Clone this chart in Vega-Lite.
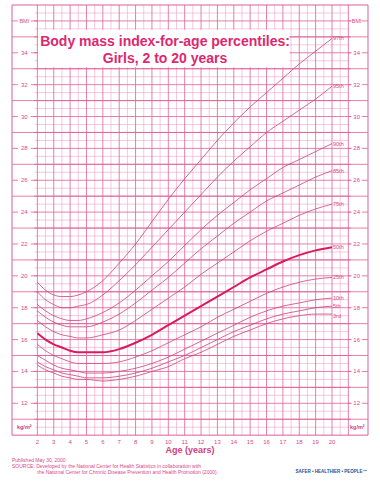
{
  "$schema": "https://vega.github.io/schema/vega-lite/v6.json",
  "width": 356,
  "height": 470,
  "autosize": {"type": "none"},
  "padding": {"left": 12, "top": 5, "right": 12, "bottom": 6},
  "background": "white",
  "config": {"view": {"stroke": null}, "font": "Liberation Sans"},
  "datasets": {
    "h05": [10.5, 11.5, 12.5, 13.5, 14.5, 15.5, 16.5, 17.5, 18.5, 19.5, 20.5, 21.5, 22.5, 23.5, 24.5, 25.5, 26.5, 27.5, 28.5, 29.5, 30.5, 31.5, 32.5, 33.5, 34.5, 35.5, 36.5],
    "h1": [11, 12, 13, 14, 15, 16, 17, 18, 19, 20, 21, 22, 23, 24, 25, 26, 27, 28, 29, 30, 31, 32, 33, 34, 35, 36],
    "hodd": [11, 13, 15, 17, 19, 21, 23, 25, 27, 29, 31, 33, 35],
    "heven": [12, 14, 16, 18, 20, 22, 24, 26, 28, 30, 32, 34, 36],
    "ylabels": [12, 14, 16, 18, 20, 22, 24, 26, 28, 30, 32, 34],
    "xlabels": [2, 3, 4, 5, 6, 7, 8, 9, 10, 11, 12, 13, 14, 15, 16, 17, 18, 19, 20],
    "v05": [2.5, 3.5, 4.5, 5.5, 6.5, 7.5, 8.5, 9.5, 10.5, 11.5, 12.5, 13.5, 14.5, 15.5, 16.5, 17.5, 18.5, 19.5, 20.5],
    "v1": [2, 3, 4, 5, 6, 7, 8, 9, 10, 11, 12, 13, 14, 15, 16, 17, 18, 19, 20, 21],
    "curves": [
      {"age": 2, "3rd": 14.4, "5th": 14.6, "10th": 15.0, "25th": 15.7, "50th": 16.4, "75th": 17.2, "85th": 17.8, "90th": 18.2, "95th": 19.0, "97th": 19.6},
      {"age": 2.5, "3rd": 14.1, "5th": 14.3, "10th": 14.7, "25th": 15.3, "50th": 16.0, "75th": 16.8, "85th": 17.4, "90th": 17.8, "95th": 18.5, "97th": 19.1},
      {"age": 3, "3rd": 13.9, "5th": 14.1, "10th": 14.4, "25th": 15.0, "50th": 15.7, "75th": 16.5, "85th": 17.1, "90th": 17.5, "95th": 18.2, "97th": 18.8},
      {"age": 3.5, "3rd": 13.7, "5th": 13.9, "10th": 14.2, "25th": 14.8, "50th": 15.5, "75th": 16.3, "85th": 16.9, "90th": 17.3, "95th": 18.0, "97th": 18.7},
      {"age": 4, "3rd": 13.6, "5th": 13.8, "10th": 14.1, "25th": 14.6, "50th": 15.3, "75th": 16.2, "85th": 16.8, "90th": 17.2, "95th": 18.0, "97th": 18.7},
      {"age": 4.5, "3rd": 13.5, "5th": 13.7, "10th": 14.0, "25th": 14.5, "50th": 15.2, "75th": 16.1, "85th": 16.8, "90th": 17.2, "95th": 18.1, "97th": 18.8},
      {"age": 5, "3rd": 13.5, "5th": 13.6, "10th": 13.9, "25th": 14.5, "50th": 15.2, "75th": 16.1, "85th": 16.8, "90th": 17.3, "95th": 18.2, "97th": 19.0},
      {"age": 6, "3rd": 13.4, "5th": 13.6, "10th": 13.9, "25th": 14.5, "50th": 15.2, "75th": 16.3, "85th": 17.1, "90th": 17.7, "95th": 18.8, "97th": 19.7},
      {"age": 7, "3rd": 13.5, "5th": 13.7, "10th": 14.0, "25th": 14.6, "50th": 15.4, "75th": 16.6, "85th": 17.6, "90th": 18.3, "95th": 19.7, "97th": 20.8},
      {"age": 8, "3rd": 13.7, "5th": 13.9, "10th": 14.2, "25th": 14.9, "50th": 15.8, "75th": 17.2, "85th": 18.3, "90th": 19.1, "95th": 20.7, "97th": 22.0},
      {"age": 9, "3rd": 14.0, "5th": 14.2, "10th": 14.5, "25th": 15.3, "50th": 16.3, "75th": 17.9, "85th": 19.1, "90th": 20.0, "95th": 21.8, "97th": 23.4},
      {"age": 10, "3rd": 14.3, "5th": 14.6, "10th": 14.9, "25th": 15.8, "50th": 16.9, "75th": 18.6, "85th": 19.9, "90th": 20.9, "95th": 22.9, "97th": 24.8},
      {"age": 11, "3rd": 14.8, "5th": 15.0, "10th": 15.4, "25th": 16.3, "50th": 17.5, "75th": 19.3, "85th": 20.8, "90th": 21.9, "95th": 24.0, "97th": 26.1},
      {"age": 12, "3rd": 15.2, "5th": 15.5, "10th": 15.9, "25th": 16.8, "50th": 18.1, "75th": 20.1, "85th": 21.7, "90th": 22.9, "95th": 25.1, "97th": 27.3},
      {"age": 13, "3rd": 15.7, "5th": 16.0, "10th": 16.4, "25th": 17.4, "50th": 18.7, "75th": 20.8, "85th": 22.5, "90th": 23.8, "95th": 26.2, "97th": 28.5},
      {"age": 14, "3rd": 16.2, "5th": 16.5, "10th": 16.9, "25th": 17.9, "50th": 19.3, "75th": 21.5, "85th": 23.3, "90th": 24.6, "95th": 27.2, "97th": 29.6},
      {"age": 15, "3rd": 16.6, "5th": 16.9, "10th": 17.4, "25th": 18.4, "50th": 19.9, "75th": 22.2, "85th": 24.0, "90th": 25.4, "95th": 28.1, "97th": 30.6},
      {"age": 16, "3rd": 17.0, "5th": 17.3, "10th": 17.8, "25th": 18.9, "50th": 20.4, "75th": 22.8, "85th": 24.7, "90th": 26.1, "95th": 29.0, "97th": 31.5},
      {"age": 17, "3rd": 17.3, "5th": 17.6, "10th": 18.1, "25th": 19.3, "50th": 20.9, "75th": 23.3, "85th": 25.2, "90th": 26.8, "95th": 29.7, "97th": 32.4},
      {"age": 18, "3rd": 17.5, "5th": 17.8, "10th": 18.3, "25th": 19.6, "50th": 21.3, "75th": 23.8, "85th": 25.7, "90th": 27.3, "95th": 30.4, "97th": 33.3},
      {"age": 19, "3rd": 17.6, "5th": 18.0, "10th": 18.5, "25th": 19.8, "50th": 21.6, "75th": 24.2, "85th": 26.2, "90th": 27.8, "95th": 31.1, "97th": 34.1},
      {"age": 20, "3rd": 17.6, "5th": 18.1, "10th": 18.6, "25th": 19.9, "50th": 21.8, "75th": 24.5, "85th": 26.6, "90th": 28.3, "95th": 31.9, "97th": 34.9}
    ],
    "ends": [
      {"p": "97th", "v": 34.9}, {"p": "95th", "v": 31.9}, {"p": "90th", "v": 28.3}, {"p": "85th", "v": 26.6}, {"p": "75th", "v": 24.5},
      {"p": "50th", "v": 21.8}, {"p": "25th", "v": 19.9}, {"p": "10th", "v": 18.6}, {"p": "5th", "v": 18.1}, {"p": "3rd", "v": 17.5}
    ]
  },
  "layer": [
    {
      "data": {"name": "v05"},
      "mark": {"type": "rule", "stroke": "#f0a3c4", "strokeWidth": 0.6},
      "encoding": {
        "x": {"field": "data", "type": "quantitative", "scale": {"domain": [0.45, 22.2], "nice": false, "zero": false}, "axis": null},
        "y": {"datum": 10, "type": "quantitative", "scale": {"domain": [7.5, 37], "nice": false, "zero": false}, "axis": null},
        "y2": {"datum": 37}
      }
    },
    {
      "data": {"name": "h05"},
      "mark": {"type": "rule", "stroke": "#f0a3c4", "strokeWidth": 0.6},
      "encoding": {
        "y": {"field": "data", "type": "quantitative", "scale": {"domain": [7.5, 37], "nice": false, "zero": false}, "axis": null},
        "x": {"datum": 1.85, "type": "quantitative", "scale": {"domain": [0.45, 22.2], "nice": false, "zero": false}, "axis": null},
        "x2": {"datum": 21}
      }
    },
    {
      "data": {"name": "h1"},
      "mark": {"type": "rule", "stroke": "#df5f98", "strokeWidth": 0.8},
      "encoding": {
        "y": {"field": "data", "type": "quantitative", "scale": {"domain": [7.5, 37], "nice": false, "zero": false}, "axis": null},
        "x": {"datum": 1.8, "type": "quantitative", "scale": {"domain": [0.45, 22.2], "nice": false, "zero": false}, "axis": null},
        "x2": {"datum": 21.15}
      }
    },
    {
      "data": {"name": "v1"},
      "mark": {"type": "rule", "stroke": "#df5f98", "strokeWidth": 0.8},
      "encoding": {
        "x": {"field": "data", "type": "quantitative", "scale": {"domain": [0.45, 22.2], "nice": false, "zero": false}, "axis": null},
        "y": {"datum": 10, "type": "quantitative", "scale": {"domain": [7.5, 37], "nice": false, "zero": false}, "axis": null},
        "y2": {"datum": 37}
      }
    },
    {
      "data": {"name": "hodd"},
      "mark": {"type": "rule", "stroke": "#df5f98", "strokeWidth": 0.8},
      "encoding": {
        "y": {"field": "data", "type": "quantitative", "scale": {"domain": [7.5, 37], "nice": false, "zero": false}, "axis": null},
        "x": {"datum": 0.45, "type": "quantitative", "scale": {"domain": [0.45, 22.2], "nice": false, "zero": false}, "axis": null},
        "x2": {"datum": 22.2}
      }
    },
    {
      "data": {"name": "heven"},
      "mark": {"type": "rule", "stroke": "#df5f98", "strokeWidth": 0.8},
      "encoding": {
        "y": {"field": "data", "type": "quantitative", "scale": {"domain": [7.5, 37], "nice": false, "zero": false}, "axis": null},
        "x": {"datum": 0.45, "type": "quantitative", "scale": {"domain": [0.45, 22.2], "nice": false, "zero": false}, "axis": null},
        "x2": {"datum": 0.82}
      }
    },
    {
      "data": {"name": "heven"},
      "mark": {"type": "rule", "stroke": "#df5f98", "strokeWidth": 0.8},
      "encoding": {
        "y": {"field": "data", "type": "quantitative", "scale": {"domain": [7.5, 37], "nice": false, "zero": false}, "axis": null},
        "x": {"datum": 1.6, "type": "quantitative", "scale": {"domain": [0.45, 22.2], "nice": false, "zero": false}, "axis": null},
        "x2": {"datum": 2}
      }
    },
    {
      "data": {"name": "heven"},
      "mark": {"type": "rule", "stroke": "#df5f98", "strokeWidth": 0.8},
      "encoding": {
        "y": {"field": "data", "type": "quantitative", "scale": {"domain": [7.5, 37], "nice": false, "zero": false}, "axis": null},
        "x": {"datum": 21, "type": "quantitative", "scale": {"domain": [0.45, 22.2], "nice": false, "zero": false}, "axis": null},
        "x2": {"datum": 21.2}
      }
    },
    {
      "data": {"name": "heven"},
      "mark": {"type": "rule", "stroke": "#df5f98", "strokeWidth": 0.8},
      "encoding": {
        "y": {"field": "data", "type": "quantitative", "scale": {"domain": [7.5, 37], "nice": false, "zero": false}, "axis": null},
        "x": {"datum": 21.82, "type": "quantitative", "scale": {"domain": [0.45, 22.2], "nice": false, "zero": false}, "axis": null},
        "x2": {"datum": 22.2}
      }
    },
    {
      "data": {"values": [{}]},
      "mark": {"type": "rect", "fill": null, "stroke": "#df5f98", "strokeWidth": 1},
      "encoding": {
        "x": {"datum": 0.45, "type": "quantitative", "scale": {"domain": [0.45, 22.2], "nice": false, "zero": false}, "axis": null},
        "x2": {"datum": 22.2},
        "y": {"datum": 10, "type": "quantitative", "scale": {"domain": [7.5, 37], "nice": false, "zero": false}, "axis": null},
        "y2": {"datum": 37}
      }
    },
    {
      "data": {"values": [{}]},
      "mark": {"type": "rect", "fill": "white", "stroke": null},
      "encoding": {
        "x": {"datum": 2.05, "type": "quantitative", "scale": {"domain": [0.45, 22.2], "nice": false, "zero": false}, "axis": null},
        "x2": {"datum": 17.4},
        "y": {"datum": 33.1, "type": "quantitative", "scale": {"domain": [7.5, 37], "nice": false, "zero": false}, "axis": null},
        "y2": {"datum": 35.45}
      }
    },
    {
      "data": {"values": [{}]},
      "mark": {"type": "text", "text": "Body mass index-for-age percentiles:", "font": "Liberation Sans", "fontWeight": "bold", "fontSize": 14, "fill": "#dc2870", "align": "center", "baseline": "alphabetic"},
      "encoding": {
        "x": {"datum": 9.8, "type": "quantitative", "scale": {"domain": [0.45, 22.2], "nice": false, "zero": false}, "axis": null},
        "y": {"datum": 34.43, "type": "quantitative", "scale": {"domain": [7.5, 37], "nice": false, "zero": false}, "axis": null}
      }
    },
    {
      "data": {"values": [{}]},
      "mark": {"type": "text", "text": "Girls, 2 to 20 years", "font": "Liberation Sans", "fontWeight": "bold", "fontSize": 14, "fill": "#dc2870", "align": "center", "baseline": "alphabetic"},
      "encoding": {
        "x": {"datum": 9.8, "type": "quantitative", "scale": {"domain": [0.45, 22.2], "nice": false, "zero": false}, "axis": null},
        "y": {"datum": 33.36, "type": "quantitative", "scale": {"domain": [7.5, 37], "nice": false, "zero": false}, "axis": null}
      }
    },
    {
      "data": {"name": "curves"},
      "transform": [{"fold": ["3rd", "5th", "10th", "25th", "50th", "75th", "85th", "90th", "95th", "97th"], "as": ["p", "bmi"]}],
      "mark": {"type": "line", "interpolate": "monotone", "stroke": "#c8417e"},
      "encoding": {
        "x": {"field": "age", "type": "quantitative", "scale": {"domain": [0.45, 22.2], "nice": false, "zero": false}, "axis": null},
        "y": {"field": "bmi", "type": "quantitative", "scale": {"domain": [7.5, 37], "nice": false, "zero": false}, "axis": null},
        "detail": {"field": "p"},
        "strokeWidth": {"condition": {"test": "datum.p === '50th'", "value": 2}, "value": 0.8},
        "stroke": {"condition": {"test": "datum.p === '50th'", "value": "#d81b60"}, "value": "#c8417e"}
      }
    },
    {
      "data": {"name": "ends"},
      "mark": {"type": "text", "align": "left", "baseline": "middle", "dx": 1, "fontSize": 5.5, "fill": "#d9488a", "font": "Liberation Sans"},
      "encoding": {
        "x": {"datum": 20, "type": "quantitative", "scale": {"domain": [0.45, 22.2], "nice": false, "zero": false}, "axis": null},
        "y": {"field": "v", "type": "quantitative", "scale": {"domain": [7.5, 37], "nice": false, "zero": false}, "axis": null},
        "text": {"field": "p"}
      }
    },
    {
      "data": {"name": "xlabels"},
      "mark": {"type": "text", "align": "center", "baseline": "middle", "fontSize": 6, "fill": "#d9488a", "font": "Liberation Sans"},
      "encoding": {
        "x": {"field": "data", "type": "quantitative", "scale": {"domain": [0.45, 22.2], "nice": false, "zero": false}, "axis": null},
        "y": {"datum": 9.6, "type": "quantitative", "scale": {"domain": [7.5, 37], "nice": false, "zero": false}, "axis": null},
        "text": {"field": "data"}
      }
    },
    {
      "data": {"values": [{}]},
      "mark": {"type": "text", "text": "Age (years)", "align": "center", "baseline": "middle", "fontSize": 9, "fontWeight": "bold", "fill": "#d23c80", "font": "Liberation Sans"},
      "encoding": {
        "x": {"datum": 11.32, "type": "quantitative", "scale": {"domain": [0.45, 22.2], "nice": false, "zero": false}, "axis": null},
        "y": {"datum": 9.06, "type": "quantitative", "scale": {"domain": [7.5, 37], "nice": false, "zero": false}, "axis": null}
      }
    },
    {
      "data": {"name": "ylabels"},
      "mark": {"type": "text", "align": "center", "baseline": "middle", "fontSize": 6, "fill": "#d9488a", "font": "Liberation Sans"},
      "encoding": {
        "x": {"datum": 1.2, "type": "quantitative", "scale": {"domain": [0.45, 22.2], "nice": false, "zero": false}, "axis": null},
        "y": {"field": "data", "type": "quantitative", "scale": {"domain": [7.5, 37], "nice": false, "zero": false}, "axis": null},
        "text": {"field": "data"}
      }
    },
    {
      "data": {"name": "ylabels"},
      "mark": {"type": "text", "align": "center", "baseline": "middle", "fontSize": 6, "fill": "#d9488a", "font": "Liberation Sans"},
      "encoding": {
        "x": {"datum": 21.51, "type": "quantitative", "scale": {"domain": [0.45, 22.2], "nice": false, "zero": false}, "axis": null},
        "y": {"field": "data", "type": "quantitative", "scale": {"domain": [7.5, 37], "nice": false, "zero": false}, "axis": null},
        "text": {"field": "data"}
      }
    },
    {
      "data": {"values": [{}]},
      "mark": {"type": "text", "text": "BMI", "align": "center", "baseline": "middle", "fontSize": 5.5, "fill": "#d9488a", "font": "Liberation Sans"},
      "encoding": {
        "x": {"datum": 1.2, "type": "quantitative", "scale": {"domain": [0.45, 22.2], "nice": false, "zero": false}, "axis": null},
        "y": {"datum": 36, "type": "quantitative", "scale": {"domain": [7.5, 37], "nice": false, "zero": false}, "axis": null}
      }
    },
    {
      "data": {"values": [{}]},
      "mark": {"type": "text", "text": "BMI", "align": "center", "baseline": "middle", "fontSize": 5.5, "fill": "#d9488a", "font": "Liberation Sans"},
      "encoding": {
        "x": {"datum": 21.51, "type": "quantitative", "scale": {"domain": [0.45, 22.2], "nice": false, "zero": false}, "axis": null},
        "y": {"datum": 36, "type": "quantitative", "scale": {"domain": [7.5, 37], "nice": false, "zero": false}, "axis": null}
      }
    },
    {
      "data": {"values": [{}]},
      "mark": {"type": "text", "text": "kg/m²", "align": "center", "baseline": "middle", "fontSize": 5.5, "fontWeight": "bold", "fill": "#d23c80", "font": "Liberation Sans"},
      "encoding": {
        "x": {"datum": 1.2, "type": "quantitative", "scale": {"domain": [0.45, 22.2], "nice": false, "zero": false}, "axis": null},
        "y": {"datum": 10.5, "type": "quantitative", "scale": {"domain": [7.5, 37], "nice": false, "zero": false}, "axis": null}
      }
    },
    {
      "data": {"values": [{}]},
      "mark": {"type": "text", "text": "kg/m²", "align": "center", "baseline": "middle", "fontSize": 5.5, "fontWeight": "bold", "fill": "#d23c80", "font": "Liberation Sans"},
      "encoding": {
        "x": {"datum": 21.55, "type": "quantitative", "scale": {"domain": [0.45, 22.2], "nice": false, "zero": false}, "axis": null},
        "y": {"datum": 10.5, "type": "quantitative", "scale": {"domain": [7.5, 37], "nice": false, "zero": false}, "axis": null}
      }
    },
    {
      "data": {"values": [{}]},
      "mark": {"type": "text", "text": "Published May 30, 2000", "align": "left", "baseline": "middle", "fontSize": 5, "fill": "#d9488a", "font": "Liberation Sans"},
      "encoding": {
        "x": {"datum": 0.45, "type": "quantitative", "scale": {"domain": [0.45, 22.2], "nice": false, "zero": false}, "axis": null},
        "y": {"datum": 8.45, "type": "quantitative", "scale": {"domain": [7.5, 37], "nice": false, "zero": false}, "axis": null}
      }
    },
    {
      "data": {"values": [{}]},
      "mark": {"type": "text", "text": "SOURCE: Developed by the National Center for Health Statistics in collaboration with", "align": "left", "baseline": "middle", "fontSize": 5, "fill": "#d9488a", "font": "Liberation Sans"},
      "encoding": {
        "x": {"datum": 0.45, "type": "quantitative", "scale": {"domain": [0.45, 22.2], "nice": false, "zero": false}, "axis": null},
        "y": {"datum": 8.07, "type": "quantitative", "scale": {"domain": [7.5, 37], "nice": false, "zero": false}, "axis": null}
      }
    },
    {
      "data": {"values": [{}]},
      "mark": {"type": "text", "text": "the National Center for Chronic Disease Prevention and Health Promotion (2000).", "align": "left", "baseline": "middle", "fontSize": 5, "fill": "#d9488a", "font": "Liberation Sans"},
      "encoding": {
        "x": {"datum": 2.0, "type": "quantitative", "scale": {"domain": [0.45, 22.2], "nice": false, "zero": false}, "axis": null},
        "y": {"datum": 7.7, "type": "quantitative", "scale": {"domain": [7.5, 37], "nice": false, "zero": false}, "axis": null}
      }
    },
    {
      "data": {"values": [{}]},
      "mark": {"type": "text", "text": "SAFER • HEALTHIER • PEOPLE™", "align": "center", "baseline": "middle", "fontSize": 4.5, "fontWeight": "bold", "fill": "#1f4f94", "font": "Liberation Sans"},
      "encoding": {
        "x": {"datum": 19.95, "type": "quantitative", "scale": {"domain": [0.45, 22.2], "nice": false, "zero": false}, "axis": null},
        "y": {"datum": 7.68, "type": "quantitative", "scale": {"domain": [7.5, 37], "nice": false, "zero": false}, "axis": null}
      }
    }
  ]
}
